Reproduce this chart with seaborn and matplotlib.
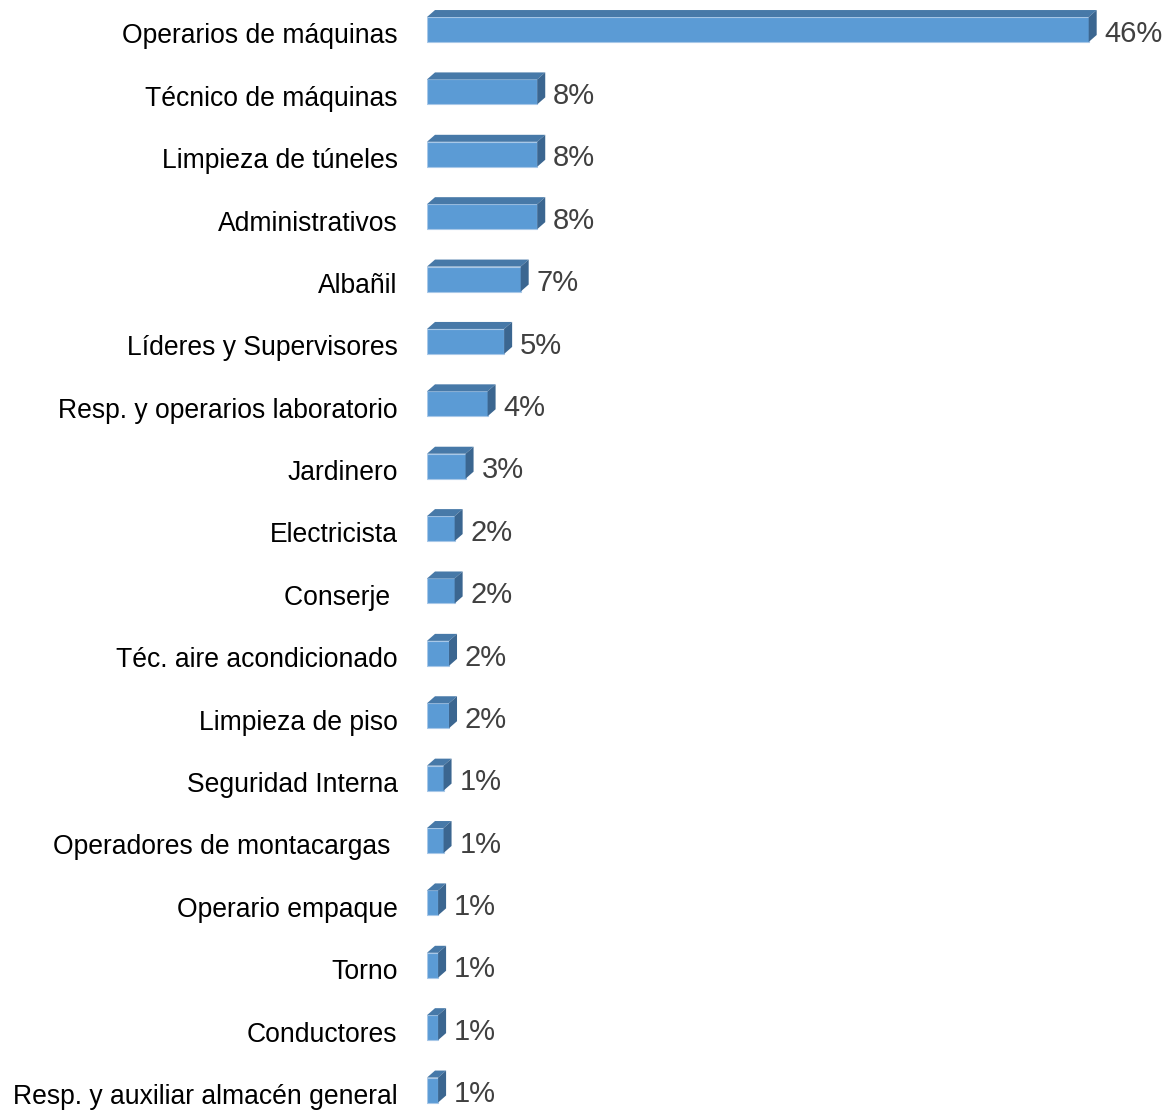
import matplotlib
matplotlib.use("Agg")
import matplotlib.pyplot as plt
import matplotlib.transforms as mtransforms
from matplotlib.patches import Polygon
import pandas as pd
import seaborn as sns

# Job positions and their share of staff (%)
categories = [
    "Operarios de máquinas",
    "Técnico de máquinas",
    "Limpieza de túneles",
    "Administrativos",
    "Albañil",
    "Líderes y Supervisores",
    "Resp. y operarios laboratorio",
    "Jardinero",
    "Electricista",
    "Conserje ",
    "Téc. aire acondicionado",
    "Limpieza de piso",
    "Seguridad Interna",
    "Operadores de montacargas ",
    "Operario empaque",
    "Torno",
    "Conductores",
    "Resp. y auxiliar almacén general",
]
percentages = [45.98, 7.66, 7.66, 7.66, 6.51, 5.36, 4.21, 2.68, 1.92, 1.92,
               1.53, 1.53, 1.15, 1.15, 0.77, 0.77, 0.77, 0.77]

FRONT = "#5B9BD5"
TOP = "#4779A8"
SIDE = "#3B6690"
RIM = "#A8C8E8"

sns.set_theme(style="white")
plt.rcParams["font.family"] = ["Liberation Sans", "DejaVu Sans"]

W, H = 1171, 1110
fig = plt.figure(figsize=(W / 100, H / 100), dpi=100)
left = 427 / W
ax = fig.add_axes([left, 0, 1 - left, 1])

df = pd.DataFrame({"puesto": categories, "pct": percentages})
sns.barplot(data=df, x="pct", y="puesto", orient="h", color=FRONT,
            saturation=1, width=0.4, edgecolor=RIM, linewidth=0.8, ax=ax)

xmax, ylo, yhi = 51.7, -0.473, 17.32
ax.set_xlim(0, xmax)
ax.set_ylim(yhi, ylo)

# depth of the 3D extrusion, in pixels converted to data units
ax_w_px = (1 - left) * W
dx = 8 * xmax / ax_w_px
dy = 7 * (yhi - ylo) / H

for bar in list(ax.patches):
    x0, x1 = bar.get_x(), bar.get_x() + bar.get_width()
    yt, yb = bar.get_y(), bar.get_y() + bar.get_height()
    ax.add_patch(Polygon([(x0, yt), (x1, yt), (x1 + dx, yt - dy), (x0 + dx, yt - dy)],
                         closed=True, facecolor=TOP, edgecolor="none", zorder=3))
    ax.add_patch(Polygon([(x1, yt), (x1, yb), (x1 + dx, yb - dy), (x1 + dx, yt - dy)],
                         closed=True, facecolor=SIDE, edgecolor="none", zorder=3))
    ax.annotate(f"{bar.get_width():.0f}%", xy=(x1, (yt + yb) / 2),
                xytext=(11.5, -3.0), textcoords="offset points",
                ha="left", va="center", fontsize=21, color="#404040")

for s in ax.spines.values():
    s.set_visible(False)
ax.set_xticks([])
ax.set_xlabel("")
ax.set_ylabel("")
ax.tick_params(axis="y", length=0, pad=21.2, labelsize=19.1, labelcolor="black")
shift = mtransforms.ScaledTranslation(0, -2.8 / 72, fig.dpi_scale_trans)
for lab in ax.get_yticklabels():
    lab.set_transform(lab.get_transform() + shift)

fig.savefig("out.png", dpi=100, facecolor="white")
